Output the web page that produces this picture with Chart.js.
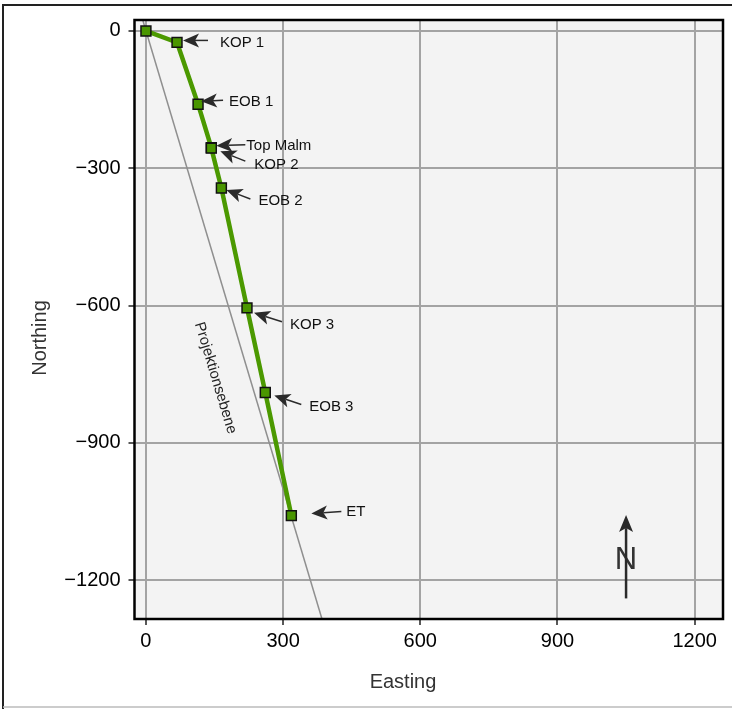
<!DOCTYPE html>
<html>
<head>
<meta charset="utf-8">
<script src="https://cdn.jsdelivr.net/npm/chart.js@4.4.1/dist/chart.umd.min.js"></script>
<style>
  html, body { margin: 0; padding: 0; background: #fff; }
  canvas { display: block; }
</style>
</head>
<body>
<canvas id="plan" width="732" height="709"></canvas>
<script>
// well path (plan view)
const wellLabels = ['Start', 'KOP 1', 'EOB 1', 'Top Malm', 'KOP 2', 'EOB 2', 'KOP 3', 'EOB 3', 'ET'];
const eastings = [0, 68, 114, 143, 143, 165, 221, 261, 318];
const northings = [0, -25, -160, -255, -256, -343, -605, -790, -1059];

// projection plane trace
const planeEastings = [-7, 385];
const planeNorthings = [24, -1285];

const xTicks = [0, 300, 600, 900, 1200];
const yTicks = [0, -300, -600, -900, -1200];

const FONT = "'Liberation Sans', Arial, Helvetica, sans-serif";
const green = '#4b9900';

// pixel offsets of each callout from its marker: arrow tip, arrow tail, text
const callouts = {
    'KOP 1':    { tip: [6, -2],  tail: [31, -2],  text: [43, 0] },
    'EOB 1':    { tip: [3, -3],  tail: [25, -4],  text: [31, -2] },
    'Top Malm': { tip: [5, -2],  tail: [34, -3],  text: [35, -2] },
    'KOP 2':    { tip: [9, 3],   tail: [34, 13],  text: [43, 17] },
    'EOB 2':    { tip: [5, 2],   tail: [29, 11],  text: [37, 13] },
    'KOP 3':    { tip: [7, 5],   tail: [35, 14],  text: [43, 17] },
    'EOB 3':    { tip: [9, 3],   tail: [36, 12],  text: [44, 14] },
    'ET':       { tip: [20, -2], tail: [50, -4],  text: [55, -4] }
};

function fmtTick(v) {
    return v < 0 ? '\u2212' + Math.abs(v) : String(v);
}

function drawArrow(ctx, x1, y1, x2, y2, headLen, headW, lw, color) {
    const a = Math.atan2(y2 - y1, x2 - x1);
    const c = Math.cos(a), s = Math.sin(a);
    const bx = x2 - headLen * c, by = y2 - headLen * s;
    const nx = x2 - (headLen - 4) * c, ny = y2 - (headLen - 4) * s;
    ctx.save();
    ctx.strokeStyle = color;
    ctx.fillStyle = color;
    ctx.lineWidth = lw;
    ctx.beginPath();
    ctx.moveTo(x1, y1);
    ctx.lineTo(nx, ny);
    ctx.stroke();
    ctx.beginPath();
    ctx.moveTo(x2, y2);
    ctx.lineTo(bx - headW * s, by + headW * c);
    ctx.lineTo(nx, ny);
    ctx.lineTo(bx + headW * s, by - headW * c);
    ctx.closePath();
    ctx.fill();
    ctx.restore();
}

const backdrop = {
    id: 'backdrop',
    beforeDraw(chart) {
        const ctx = chart.ctx, a = chart.chartArea;
        ctx.save();
        ctx.fillStyle = '#fff';
        ctx.fillRect(0, 0, chart.width, chart.height);
        ctx.fillStyle = '#f3f3f3';
        ctx.fillRect(a.left, a.top, a.right - a.left, a.bottom - a.top);
        // outer frame of the figure
        ctx.strokeStyle = '#222';
        ctx.lineWidth = 2;
        ctx.beginPath();
        ctx.moveTo(3, chart.height);
        ctx.lineTo(3, 5);
        ctx.lineTo(chart.width, 5);
        ctx.stroke();
        ctx.strokeStyle = '#bbb';
        ctx.lineWidth = 1.5;
        ctx.beginPath();
        ctx.moveTo(3, 707);
        ctx.lineTo(chart.width, 707);
        ctx.stroke();
        ctx.restore();
    }
};

const decorations = {
    id: 'decorations',
    afterDraw(chart) {
        const ctx = chart.ctx, a = chart.chartArea;
        const xs = chart.scales.x, ys = chart.scales.y;

        // projection plane label, parallel to the line and left of it
        const p1x = xs.getPixelForValue(planeEastings[0]), p1y = ys.getPixelForValue(planeNorthings[0]);
        const p2x = xs.getPixelForValue(planeEastings[1]), p2y = ys.getPixelForValue(planeNorthings[1]);
        const ang = Math.atan2(p2y - p1y, p2x - p1x);
        const t = 0.582;
        const mx = p1x + (p2x - p1x) * t, my = p1y + (p2y - p1y) * t;
        ctx.save();
        ctx.translate(mx - 33 * Math.sin(ang), my + 33 * Math.cos(ang));
        ctx.rotate(ang);
        ctx.fillStyle = '#222';
        ctx.font = '15px ' + FONT;
        ctx.textAlign = 'center';
        ctx.textBaseline = 'middle';
        ctx.fillText('Projektionsebene', 0, 0);
        ctx.restore();

        // callouts
        ctx.save();
        ctx.font = '15px ' + FONT;
        ctx.fillStyle = '#111';
        ctx.textAlign = 'left';
        ctx.textBaseline = 'middle';
        wellLabels.forEach((name, i) => {
            const c = callouts[name];
            if (!c) return;
            const px = xs.getPixelForValue(eastings[i]);
            const py = ys.getPixelForValue(northings[i]);
            drawArrow(ctx, px + c.tail[0], py + c.tail[1], px + c.tip[0], py + c.tip[1], 16, 7, 1.5, '#2a2a2a');
            ctx.fillText(name, px + c.text[0], py + c.text[1]);
        });
        ctx.restore();

        // north arrow
        const nx = xs.getPixelForValue(1050);
        const nTop = ys.getPixelForValue(-1058), nBot = ys.getPixelForValue(-1240);
        ctx.save();
        ctx.fillStyle = '#333';
        ctx.font = '31px ' + FONT;
        ctx.textAlign = 'center';
        ctx.textBaseline = 'middle';
        ctx.fillText('N', nx, ys.getPixelForValue(-1154) + 1);
        ctx.restore();
        drawArrow(ctx, nx, nBot, nx, nTop, 17, 7, 2.5, '#2a2a2a');

        // plot box
        ctx.save();
        ctx.strokeStyle = '#000';
        ctx.lineWidth = 2.5;
        ctx.strokeRect(a.left, a.top, a.right - a.left, a.bottom - a.top);
        ctx.restore();

        // axis titles
        ctx.save();
        ctx.fillStyle = '#333';
        ctx.font = '20px ' + FONT;
        ctx.textAlign = 'center';
        ctx.textBaseline = 'middle';
        ctx.fillText('Easting', 403, 682);
        ctx.translate(40, 338);
        ctx.rotate(-Math.PI / 2);
        ctx.fillText('Northing', 0, 0);
        ctx.restore();
    }
};

const ctx = document.getElementById('plan').getContext('2d');
new Chart(ctx, {
    type: 'scatter',
    data: {
        datasets: [
            {
                label: 'Bohrpfad',
                data: eastings.map((e, i) => ({ x: e, y: northings[i] })),
                showLine: true,
                borderColor: green,
                borderWidth: 4.5,
                pointStyle: 'rect',
                pointRadius: 7,
                pointBackgroundColor: '#4a9600',
                pointBorderColor: '#111',
                pointBorderWidth: 1.5,
                order: 0
            },
            {
                label: 'Projektionsebene',
                data: planeEastings.map((e, i) => ({ x: e, y: planeNorthings[i] })),
                showLine: true,
                borderColor: '#8f8f8f',
                borderWidth: 1.5,
                pointRadius: 0,
                order: 1
            }
        ]
    },
    options: {
        responsive: false,
        animation: false,
        devicePixelRatio: 1,
        layout: { padding: { top: 20, right: 9, left: 0, bottom: 0 } },
        plugins: {
            legend: { display: false },
            tooltip: { enabled: false }
        },
        scales: {
            x: {
                type: 'linear',
                position: 'bottom',
                min: -25,
                max: 1262,
                border: { display: false },
                grid: { color: '#a3a3a3', lineWidth: 2, tickLength: 6, tickColor: '#222', tickWidth: 1.5 },
                ticks: {
                    color: '#000',
                    padding: 4,
                    maxRotation: 0,
                    font: { family: FONT, size: 20 },
                    callback: v => fmtTick(v)
                },
                afterBuildTicks: s => { s.ticks = xTicks.map(v => ({ value: v })); },
                afterFit: s => { s.height = 90; }
            },
            y: {
                type: 'linear',
                min: -1285,
                max: 24,
                border: { display: false },
                grid: { color: '#a3a3a3', lineWidth: 2, tickLength: 6, tickColor: '#222', tickWidth: 1.5 },
                ticks: {
                    color: '#000',
                    padding: 8,
                    font: { family: FONT, size: 20 },
                    callback: v => fmtTick(v)
                },
                afterBuildTicks: s => { s.ticks = yTicks.map(v => ({ value: v })); },
                afterFit: s => { s.width = 134.5; }
            }
        }
    },
    plugins: [backdrop, decorations]
});
</script>
</body>
</html>
